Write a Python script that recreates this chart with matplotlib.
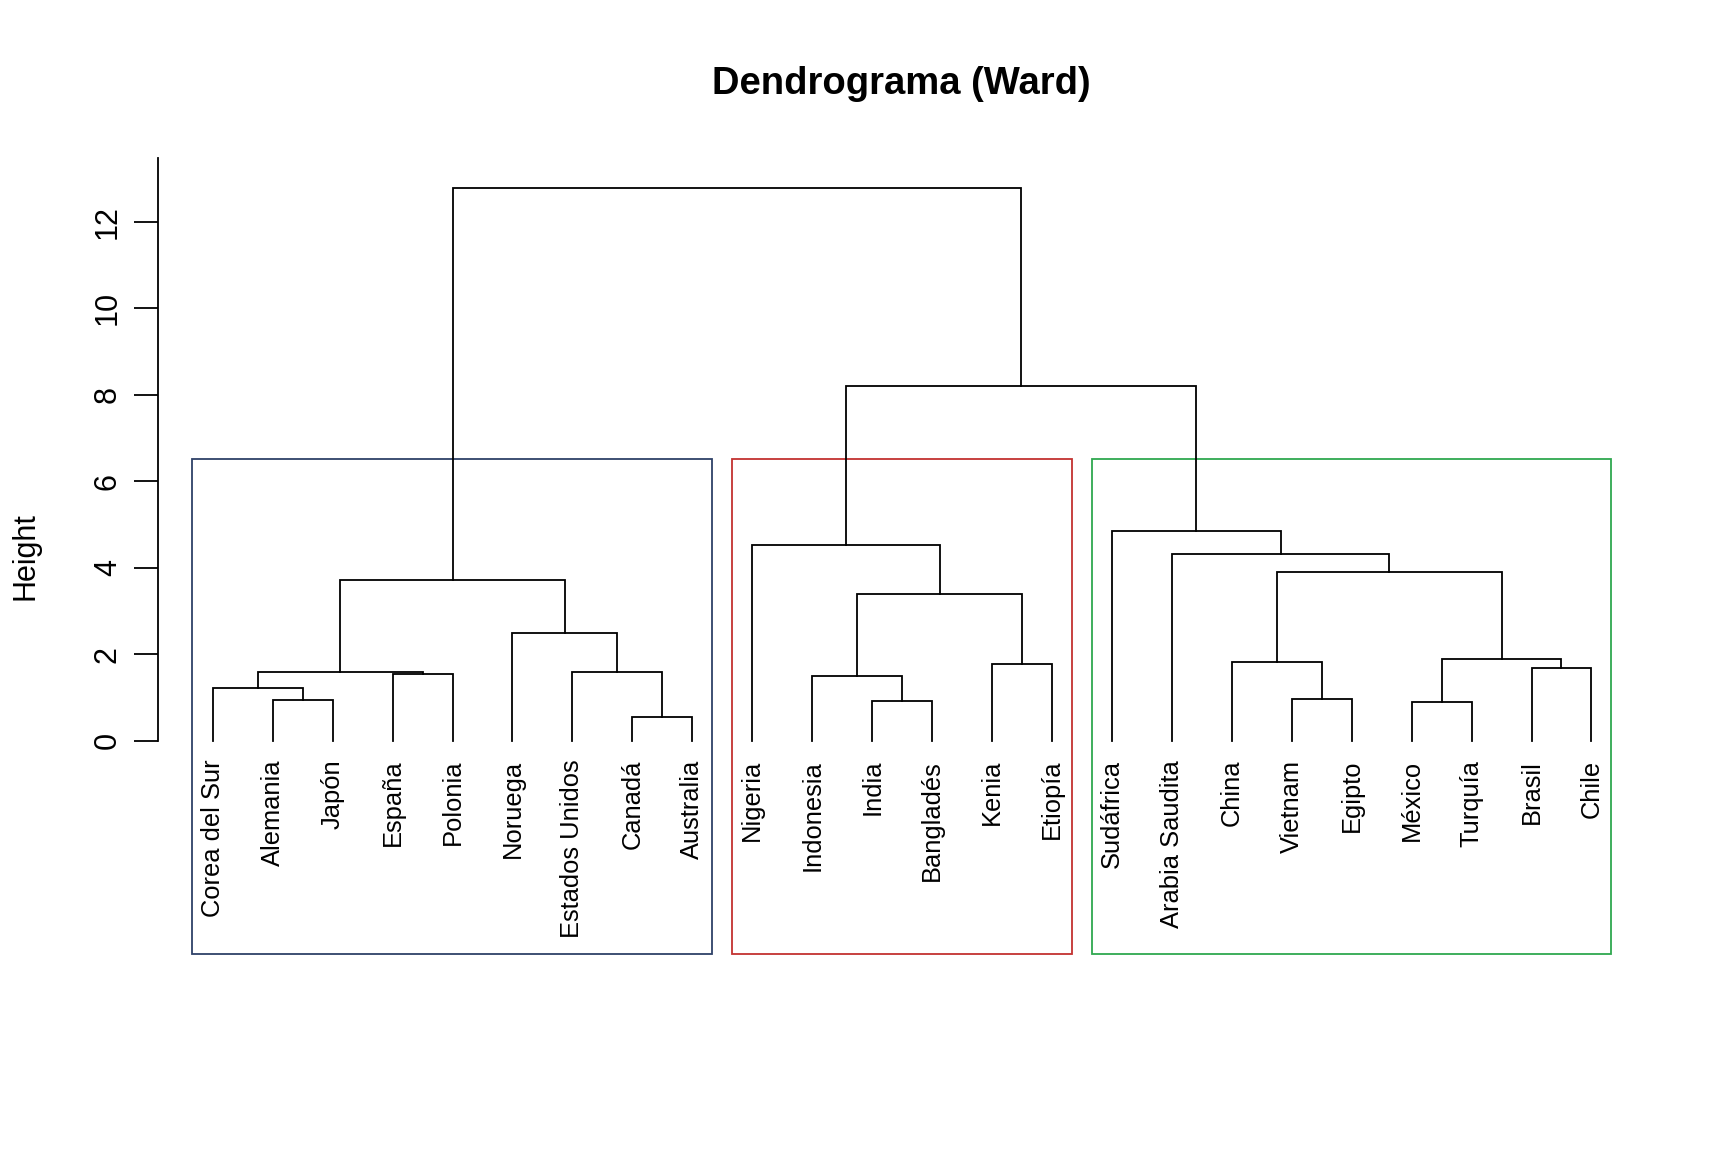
import matplotlib
matplotlib.use("Agg")
import matplotlib.pyplot as plt
from matplotlib.patches import Rectangle

plt.rcParams['font.family'] = ['Liberation Sans', 'DejaVu Sans']

# leaves in display order
labels = ['Corea del Sur', 'Alemania', 'Japón', 'España', 'Polonia', 'Noruega',
          'Estados Unidos', 'Canadá', 'Australia', 'Nigeria', 'Indonesia', 'India',
          'Bangladés', 'Kenia', 'Etiopía', 'Sudáfrica', 'Arabia Saudita', 'China',
          'Vietnam', 'Egipto', 'México', 'Turquía', 'Brasil', 'Chile']

# R-style merge matrix: negative = leaf (1-based), positive = earlier merge (1-based)
merge_left = [-8, -21, -12, -2, -19, -1, -11, -4, -7, 6, -23, -14, -18, 2, -6, 7, 10, 13, -17, -10, -16, 20, 17]
merge_right = [-9, -22, -13, -3, -20, 4, 3, -5, 1, 8, -24, -15, 5, 11, 9, 12, 15, 14, 18, 16, 19, 21, 22]
merge_height = [0.56, 0.89, 0.92, 0.94, 0.97, 1.22, 1.50, 1.55, 1.58, 1.60, 1.68, 1.78,
                1.83, 1.885, 2.50, 3.39, 3.72, 3.90, 4.31, 4.53, 4.84, 8.20, 12.79]

k_groups = 3
group_sizes = [9, 6, 9]
group_colors = ['#2E4168', '#C33230', '#2FA84F']

fig = plt.figure(figsize=(17.28, 11.52), dpi=100)
ax = fig.add_axes([0.0912, 0.1715, 0.8617, 0.6915])

leaf_x = {i + 1: i + 1 for i in range(len(labels))}
node_x = {}
node_h = {}


def pos(ref):
    if ref < 0:
        return leaf_x[-ref], 0.0
    return node_x[ref], node_h[ref]


lw = 1.3
for i, (a, b, h) in enumerate(zip(merge_left, merge_right, merge_height), start=1):
    xa, ha = pos(a)
    xb, hb = pos(b)
    ax.plot([xa, xa, xb, xb], [ha, h, h, hb], color='black', lw=lw, solid_joinstyle='miter')
    node_x[i] = (xa + xb) / 2
    node_h[i] = h

for i, lab in enumerate(labels, start=1):
    ax.text(i, -0.44, lab, rotation=90, ha='center', va='top', fontsize=18.4)

# rect.hclust style boxes
ymin, ymax = -4.94, 13.48
top = (merge_height[-k_groups] + merge_height[-k_groups + 1]) / 2
start = 0
for size, col in zip(group_sizes, group_colors):
    x0 = start + 0.66
    x1 = start + size + 0.33
    ax.add_patch(Rectangle((x0, ymin), x1 - x0, top - ymin, fill=False,
                           edgecolor=col, lw=lw, clip_on=False))
    start += size

ax.set_xlim(0.08, len(labels) + 0.92)
ax.set_ylim(ymin, ymax)
for s in ['top', 'right', 'bottom']:
    ax.spines[s].set_visible(False)
ax.spines['left'].set_bounds(0, ymax)
ax.spines['left'].set_linewidth(lw)
ax.set_xticks([])
ax.set_yticks(range(0, 13, 2))
ax.tick_params(axis='y', length=17, width=lw, labelsize=22, pad=8)
for t in ax.get_yticklabels():
    t.set_rotation(90)
    t.set_va('center')
ax.set_ylabel('Height', fontsize=22, labelpad=38)

fig.text(0.5215, 1 - 84 / 1152, 'Dendrograma (Ward)', ha='center', va='center',
         fontsize=27.5, fontweight='bold')

fig.savefig('out.png', dpi=100)
